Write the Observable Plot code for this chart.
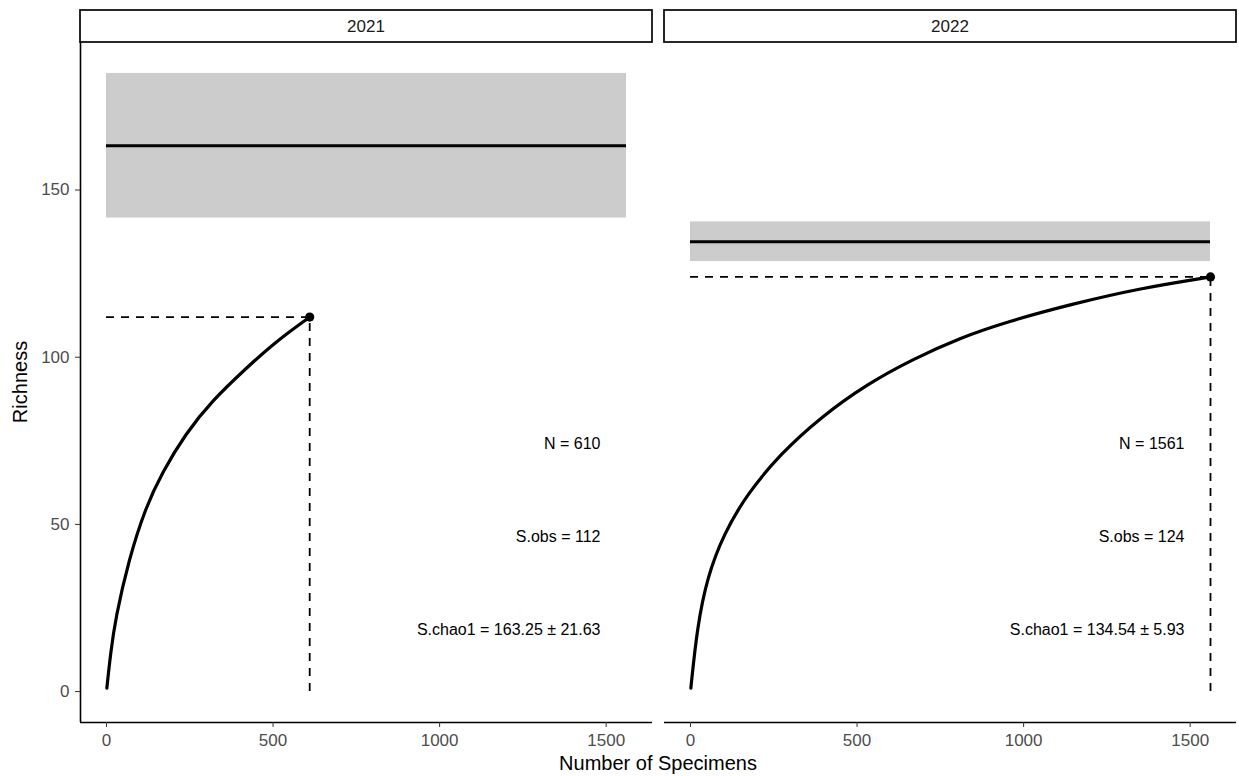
<!DOCTYPE html>
<html>
<head>
<meta charset="utf-8">
<script src="https://cdn.jsdelivr.net/npm/d3@7"></script>
<script src="https://cdn.jsdelivr.net/npm/@observablehq/plot@0.6"></script>
<style>
  body { margin: 0; background: #fff; }
  #chart svg { display: block; }
</style>
</head>
<body>
<div id="chart"></div>
<script>
// ---- data ----
const years = ["2021", "2022"];
const nSpecimens = [610, 1561];
const sObs = [112, 124];
const sChao1 = [163.25, 134.54];
const sChao1SE = [21.63, 5.93];

// rarefaction curves: number of specimens vs expected richness
const curve2021N = [1, 12, 27, 67, 117, 167, 237, 317, 417, 506, 610];
const curve2021S = [1, 11.3, 22, 39.5, 55, 65.5, 77.1, 87, 96.5, 104.5, 112];
const curve2022N = [1, 20, 50, 100, 170, 270, 390, 530, 669, 809, 949, 1149, 1349, 1561];
const curve2022S = [1, 19.2, 34.2, 47.2, 59.1, 71.1, 82, 92, 99.5, 105.8, 110.6, 116, 120.6, 124];

const xTicks = [0, 500, 1000, 1500];
const yTicks = [0, 50, 100, 150];
const xTitle = "Number of Specimens";
const yTitle = "Richness";

// ---- derived tables ----
const maxN = d3.max(nSpecimens);
const yMax = d3.max(sChao1.map((c, i) => c + sChao1SE[i]));
const xDomain = [-0.05 * maxN, maxN * 1.05];
const yDomain = [-0.05 * yMax, yMax * 1.05];

const summary = years.map((year, i) => ({
  year, n: nSpecimens[i], sobs: sObs[i], chao: sChao1[i], se: sChao1SE[i],
  lo: sChao1[i] - sChao1SE[i], hi: sChao1[i] + sChao1SE[i],
  start: 0, end: maxN, base: 0
}));

const curves = [
  ...curve2021N.map((n, i) => ({year: "2021", n, s: curve2021S[i]})),
  ...curve2022N.map((n, i) => ({year: "2022", n, s: curve2022S[i]}))
];

const labels = summary.flatMap(d => [
  {year: d.year, text: `N = ${d.n}`, frac: 0.4},
  {year: d.year, text: `S.obs = ${d.sobs}`, frac: 0.25},
  {year: d.year, text: `S.chao1 = ${d.chao.toFixed(2)} ± ${d.se.toFixed(2)}`, frac: 0.1}
]).map(d => ({...d, x: 0.95 * maxN, y: d.frac * yMax}));

const leftAxis = [{year: years[0], x: xDomain[0]}];

const FONT = "'Liberation Sans', Arimo, Arial, Helvetica, sans-serif";
const DASH = {stroke: "black", strokeWidth: 1.8, strokeDasharray: "8,7"};

const plot = Plot.plot({
  width: 1239,
  height: 776,
  marginTop: 42,
  marginBottom: 54,
  marginLeft: 80,
  marginRight: 2,
  style: {fontFamily: FONT, fontSize: "17px", background: "white", overflow: "visible"},
  fx: {domain: years, padding: 12 / 584.5, axis: null, label: null},
  x: {domain: xDomain, label: null},
  y: {domain: yDomain, label: null},
  marks: [
    Plot.rect(summary, {fx: "year", x1: "start", x2: "end", y1: "lo", y2: "hi", fill: "#CCCCCC"}),
    Plot.ruleY(summary, {fx: "year", y: "chao", x1: "start", x2: "end", stroke: "black", strokeWidth: 3.2}),
    Plot.ruleY(summary, {fx: "year", y: "sobs", x1: "start", x2: "n", ...DASH}),
    Plot.ruleX(summary, {fx: "year", x: "n", y1: "base", y2: "sobs", ...DASH}),
    Plot.line(curves, {fx: "year", x: "n", y: "s", z: "year", curve: "basis", stroke: "black", strokeWidth: 3.2}),
    Plot.dot(summary, {fx: "year", x: "n", y: "sobs", r: 4.6, fill: "black", stroke: null}),
    Plot.text(labels, {fx: "year", x: "x", y: "y", text: "text", textAnchor: "end", fontSize: 16, fill: "black"}),
    Plot.ruleY([yDomain[0]], {stroke: "black", strokeWidth: 1.6}),
    Plot.ruleX(leftAxis, {fx: "year", x: "x", stroke: "black", strokeWidth: 1.6}),
    Plot.axisX({ticks: xTicks, tickFormat: d => String(d), tickSize: 5, tickPadding: 6, stroke: "#333333", fill: "#4D4D4D", fontSize: 17, label: null}),
    Plot.axisY({ticks: yTicks, tickFormat: d => String(d), tickSize: 5, tickPadding: 6, stroke: "#333333", fill: "#4D4D4D", fontSize: 17, label: null})
  ]
});

document.getElementById("chart").appendChild(plot);

// ---- strips and axis titles, placed with the plot's own scales ----
const svg = d3.select(plot);
const fx = plot.scale("fx");
const yS = plot.scale("y");
const bw = fx.bandwidth;
const panelTop = Math.min(...yS.range);
const panelBottom = Math.max(...yS.range);
const gStrip = svg.append("g");
years.forEach(year => {
  const x0 = fx.apply(year);
  gStrip.append("rect")
    .attr("x", x0).attr("y", panelTop - 32)
    .attr("width", bw).attr("height", 32)
    .attr("fill", "white").attr("stroke", "#111").attr("stroke-width", 1.8);
  gStrip.append("text")
    .attr("x", x0 + bw / 2).attr("y", panelTop - 15.5)
    .attr("text-anchor", "middle").attr("dominant-baseline", "central")
    .attr("font-family", FONT).attr("font-size", 17).attr("fill", "#1A1A1A")
    .text(year);
});
const fxRange = [fx.apply(years[0]), fx.apply(years[years.length - 1]) + bw];
svg.append("text")
  .attr("x", (fxRange[0] + fxRange[1]) / 2).attr("y", 770)
  .attr("text-anchor", "middle")
  .attr("font-family", FONT).attr("font-size", 20).attr("fill", "black")
  .text(xTitle);
svg.append("text")
  .attr("transform", `translate(27,${(panelTop + panelBottom) / 2}) rotate(-90)`)
  .attr("text-anchor", "middle")
  .attr("font-family", FONT).attr("font-size", 20).attr("fill", "black")
  .text(yTitle);
</script>
</body>
</html>
